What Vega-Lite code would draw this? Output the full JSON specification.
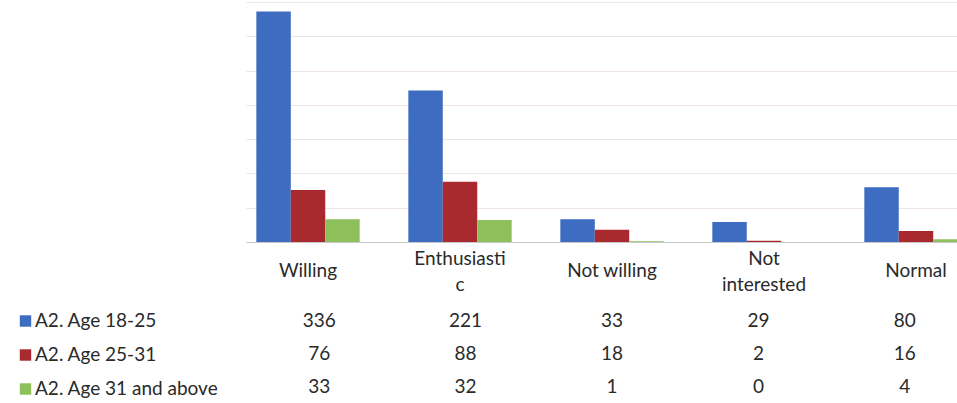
{
  "$schema": "https://vega.github.io/schema/vega-lite/v6.json",
  "padding": {"left": 16, "top": 2, "right": -21, "bottom": 0},
  "background": "white",
  "config": {"view": {"stroke": null}, "font": "Lato"},
  "bounds": "flush",
  "spacing": 62,
  "data": {"values": [
    {"response": "Willing", "group": "A2. Age 18-25", "count": 336},
    {"response": "Willing", "group": "A2. Age 25-31", "count": 76},
    {"response": "Willing", "group": "A2. Age 31 and above", "count": 33},
    {"response": "Enthusiastic", "group": "A2. Age 18-25", "count": 221},
    {"response": "Enthusiastic", "group": "A2. Age 25-31", "count": 88},
    {"response": "Enthusiastic", "group": "A2. Age 31 and above", "count": 32},
    {"response": "Not willing", "group": "A2. Age 18-25", "count": 33},
    {"response": "Not willing", "group": "A2. Age 25-31", "count": 18},
    {"response": "Not willing", "group": "A2. Age 31 and above", "count": 1},
    {"response": "Not interested", "group": "A2. Age 18-25", "count": 29},
    {"response": "Not interested", "group": "A2. Age 25-31", "count": 2},
    {"response": "Not interested", "group": "A2. Age 31 and above", "count": 0},
    {"response": "Normal", "group": "A2. Age 18-25", "count": 80},
    {"response": "Normal", "group": "A2. Age 25-31", "count": 16},
    {"response": "Normal", "group": "A2. Age 31 and above", "count": 4}
  ]},
  "vconcat": [
    {
      "width": 732,
      "height": 240,
      "mark": {"type": "bar"},
      "encoding": {
        "x": {
          "field": "response", "type": "nominal",
          "sort": ["Willing", "Enthusiastic", "Not willing", "Not interested", "Normal"],
          "scale": {"paddingInner": 0.32, "paddingOuter": 0.068},
          "axis": {
            "title": null, "labelAngle": 0, "ticks": false, "tickSize": 0,
            "domainColor": "#c8c8c8", "labelFontSize": 19, "labelColor": "#2a2a2a",
            "labelPadding": {"condition": {"test": "datum.value == 'Enthusiastic' || datum.value == 'Not interested'", "value": 16}, "value": 28},
            "labelBaseline": "middle", "labelLineHeight": 26,
            "labelExpr": "datum.value == 'Enthusiastic' ? ['Enthusiasti', 'c'] : datum.value == 'Not interested' ? ['Not', 'interested'] : datum.value"
          }
        },
        "xOffset": {"field": "group", "type": "nominal", "sort": ["A2. Age 18-25", "A2. Age 25-31", "A2. Age 31 and above"]},
        "y": {
          "field": "count", "type": "quantitative",
          "scale": {"domain": [0, 350]},
          "axis": {"labels": false, "ticks": false, "domain": false, "title": null, "tickCount": 7, "gridColor": "#f0e4e4"}
        },
        "color": {
          "field": "group", "type": "nominal",
          "scale": {"domain": ["A2. Age 18-25", "A2. Age 25-31", "A2. Age 31 and above"], "range": ["#3d6cc0", "#a82a2e", "#8dbf5a"]},
          "legend": {
            "orient": "none", "legendX": -230, "legendY": 309.5, "title": null,
            "symbolType": "square", "symbolSize": 130, "symbolStrokeWidth": 0,
            "labelFontSize": 19, "labelColor": "#2a2a2a", "labelOffset": 0,
            "rowPadding": 14, "padding": 0, "labelLimit": 300
          }
        }
      }
    },
    {
      "width": 732,
      "height": 99,
      "mark": {"type": "text", "fontSize": 19, "color": "#2a2a2a"},
      "encoding": {
        "x": {
          "field": "response", "type": "nominal",
          "sort": ["Willing", "Enthusiastic", "Not willing", "Not interested", "Normal"],
          "scale": {"paddingInner": 0.32, "paddingOuter": 0.068},
          "axis": null
        },
        "y": {
          "field": "group", "type": "nominal",
          "sort": ["A2. Age 18-25", "A2. Age 25-31", "A2. Age 31 and above"],
          "scale": {"paddingInner": 0, "paddingOuter": 0},
          "axis": null
        },
        "text": {"field": "count", "type": "quantitative"}
      }
    }
  ]
}
